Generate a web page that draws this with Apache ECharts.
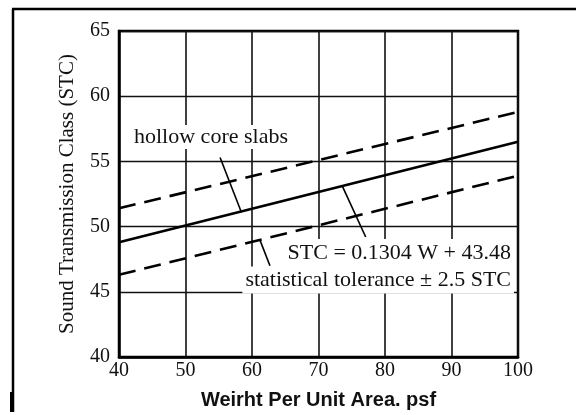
<!DOCTYPE html>
<html>
<head>
<meta charset="utf-8">
<script src="https://cdn.jsdelivr.net/npm/echarts@6/dist/echarts.min.js"></script>
<style>
html,body{margin:0;padding:0;background:#fff;}
#chart{width:576px;height:415px;}
</style>
</head>
<body>
<div id="chart"></div>
<script>
// Data
const weights = [40, 100];                 // W, psf
const stcFit = [48.8, 56.5];               // STC = 0.1304 W + 43.48
const stcUpper = [51.4, 58.8];             // + 2.5 STC tolerance
const stcLower = [46.3, 53.9];             // - 2.5 STC tolerance
const xTicks = [40, 50, 60, 70, 80, 90, 100];
const yTicks = [40, 45, 50, 55, 60, 65];
// leader lines (data coordinates: [W, STC] -> [W, STC])
const leaders = [
  [[55.2, 55.3], [58.4, 51.1]],
  [[73.6, 53.08], [77.1, 49.2]],
  [[61.2, 48.96], [62.7, 47.0]]
];
const labels = {
  hollow: 'hollow core slabs',
  equation: 'STC = 0.1304 W + 43.48',
  tolerance: 'statistical tolerance \u00B1 2.5 STC',
  xName: 'Weirht Per Unit Area. psf',
  yName: 'Sound Transmission Class (STC)'
};

const pairs = (ys) => weights.map((w, i) => [w, ys[i]]);
const serif = 'Liberation Serif';
const ink = '#111';

const chart = echarts.init(document.getElementById('chart'), null, {renderer: 'canvas'});
chart.setOption({
  backgroundColor: '#fff',
  animation: false,
  grid: {left: 119, right: 58, top: 31, bottom: 54, show: true, borderColor: '#000', borderWidth: 2.5, backgroundColor: 'transparent'},
  xAxis: {
    type: 'value', min: xTicks[0], max: xTicks[xTicks.length - 1], interval: 10,
    axisLine: {show: true, lineStyle: {color: '#000', width: 2.5}},
    axisTick: {show: false},
    splitLine: {show: true, lineStyle: {color: '#111', width: 1.6}},
    axisLabel: {fontFamily: serif, fontSize: 20, color: ink, margin: 4},
    name: labels.xName, nameLocation: 'middle', nameGap: 33,
    nameTextStyle: {fontFamily: 'Liberation Sans', fontWeight: 'bold', fontSize: 20, color: ink}
  },
  yAxis: {
    type: 'value', min: yTicks[0], max: yTicks[yTicks.length - 1], interval: 5,
    axisLine: {show: true, lineStyle: {color: '#000', width: 2.5}},
    axisTick: {show: false},
    splitLine: {show: true, lineStyle: {color: '#111', width: 1.3}},
    axisLabel: {fontFamily: serif, fontSize: 20, color: ink, margin: 9},
    name: labels.yName, nameLocation: 'middle', nameGap: 41,
    nameTextStyle: {fontFamily: serif, fontSize: 21, color: ink}
  },
  series: [
    {type: 'line', data: pairs(stcFit), symbol: 'none', z: 3,
     lineStyle: {color: '#000', width: 2.6}},
    {type: 'line', data: pairs(stcUpper), symbol: 'none', z: 3,
     lineStyle: {color: '#000', width: 2.6, type: [17, 9]}},
    {type: 'line', data: pairs(stcLower), symbol: 'none', z: 3,
     lineStyle: {color: '#000', width: 2.6, type: [17, 9]}},
    {type: 'line', data: [], symbol: 'none', z: 4,
     markLine: {
       silent: true, symbol: ['none', 'none'], label: {show: false},
       lineStyle: {color: '#000', width: 1.6, type: 'solid'},
       data: leaders.map(l => [{coord: l[0]}, {coord: l[1]}])
     }}
  ],
  graphic: [
    {type: 'line', shape: {x1: 12, y1: 9, x2: 576, y2: 9}, style: {stroke: '#000', lineWidth: 2.5}},
    {type: 'line', shape: {x1: 13, y1: 9, x2: 13, y2: 412}, style: {stroke: '#000', lineWidth: 2.5}},
    {type: 'rect', shape: {x: 10, y: 392, width: 3.5, height: 20}, style: {fill: '#000'}},
    {type: 'text', x: 132, y: 137, z: 10,
     style: {text: labels.hollow, font: '22px "Liberation Serif"', fill: ink,
             verticalAlign: 'middle', align: 'left', backgroundColor: '#fff', padding: [1, 2]}},
    {type: 'text', x: 514, y: 253, z: 10,
     style: {text: labels.equation, font: '22px "Liberation Serif"', fill: ink,
             verticalAlign: 'middle', align: 'right', backgroundColor: '#fff', padding: [2, 3, 4, 3]}},
    {type: 'text', x: 514, y: 280, z: 10,
     style: {text: labels.tolerance, font: '22px "Liberation Serif"', fill: ink,
             verticalAlign: 'middle', align: 'right', backgroundColor: '#fff', padding: [2, 3, 3, 3]}}
  ]
});
</script>
</body>
</html>
